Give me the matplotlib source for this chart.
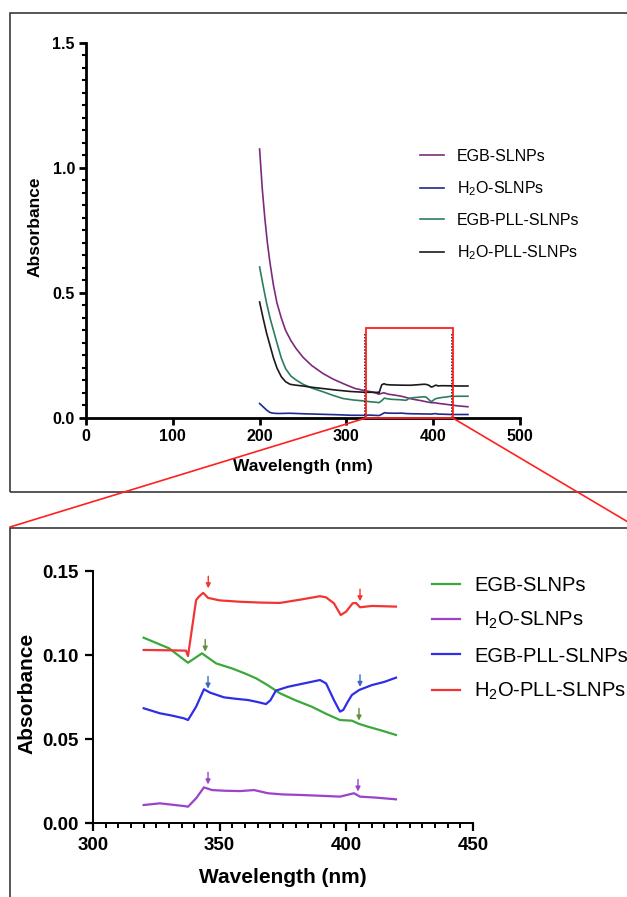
import numpy as np
import matplotlib
matplotlib.use('Agg')
import matplotlib.pyplot as plt
from matplotlib.patches import Rectangle, ConnectionPatch

plt.rcParams['font.family'] = ['Liberation Sans', 'DejaVu Sans']
plt.rcParams['mathtext.fontset'] = 'custom'
plt.rcParams['mathtext.rm'] = 'Liberation Sans'

# ---- data ----
labels = ['EGB-SLNPs', r'H$_\mathregular{2}$O-SLNPs', 'EGB-PLL-SLNPs', r'H$_\mathregular{2}$O-PLL-SLNPs']

egb_wl = [200, 203, 206, 209, 212, 216, 220, 225, 230, 236, 242, 250, 260, 273, 285, 298, 310, 320,
          330, 337.5, 343, 348.6, 354.9, 360, 364.4, 369, 373.8, 380, 386.4, 392, 397.5, 402.2, 405,
          408.6, 414, 419.6, 430, 440]
egb_abs = [1.076, 0.92, 0.80, 0.70, 0.62, 0.53, 0.46, 0.40, 0.35, 0.31, 0.278, 0.243, 0.21, 0.178,
           0.155, 0.135, 0.118, 0.1103, 0.104, 0.0954, 0.101, 0.095, 0.092, 0.089, 0.0861, 0.082,
           0.0772, 0.073, 0.0692, 0.065, 0.0613, 0.0609, 0.059, 0.0573, 0.055, 0.0524, 0.048, 0.045]

h2o_wl = [200, 204, 208, 212, 216, 222, 235, 250, 270, 290, 305, 320, 326.4, 335.9, 337.5, 340.7,
          343.8, 347, 352, 358, 363.6, 369.1, 375, 381.7, 390, 397.5, 403, 405.4, 411.7, 419.6, 430, 440]
h2o_abs = [0.058, 0.045, 0.032, 0.022, 0.019, 0.018, 0.019, 0.017, 0.015, 0.013, 0.011, 0.0107,
           0.0117, 0.0101, 0.0097, 0.0147, 0.0212, 0.0196, 0.0192, 0.019, 0.0196, 0.0177, 0.017,
           0.0167, 0.0162, 0.0157, 0.0177, 0.0157, 0.0151, 0.0141, 0.014, 0.014]

egbpll_wl = [200, 204, 208, 212, 216, 220, 225, 230, 236, 242, 250, 260, 273, 285, 296, 308, 320,
             326.4, 331, 335.9, 337.5, 340.7, 343.8, 346.2, 351.7, 356, 361.2, 365, 368.3, 370,
             372.2, 377, 383.3, 389.6, 392, 395.1, 397.5, 398.8, 400.5, 402.2, 405.1, 410.1, 415,
             419.6, 430, 440]
egbpll_abs = [0.604, 0.53, 0.46, 0.40, 0.35, 0.30, 0.24, 0.197, 0.168, 0.152, 0.135, 0.12, 0.105,
              0.09, 0.078, 0.072, 0.0683, 0.0653, 0.064, 0.0623, 0.0613, 0.0692, 0.0796, 0.0776,
              0.0748, 0.074, 0.0732, 0.072, 0.0708, 0.073, 0.0788, 0.0811, 0.0831, 0.0851, 0.0831,
              0.0732, 0.0663, 0.0673, 0.072, 0.0762, 0.0792, 0.0821, 0.084, 0.0865, 0.087, 0.087]

h2opll_wl = [200, 204, 208, 212, 216, 220, 225, 230, 235, 240, 250, 260, 275, 290, 305, 320, 330,
             336.7, 337.5, 339, 340.7, 342, 343.5, 345.4, 350, 358, 366, 373.8, 382, 389.6, 392,
             395.1, 397.8, 399.9, 402.5, 403.8, 405.4, 410.1, 415, 419.6, 430, 440]
h2opll_abs = [0.464, 0.40, 0.34, 0.29, 0.24, 0.20, 0.165, 0.145, 0.135, 0.132, 0.128, 0.123, 0.117,
              0.111, 0.106, 0.103, 0.1028, 0.1026, 0.0994, 0.115, 0.1327, 0.135, 0.137, 0.134,
              0.1325, 0.1317, 0.1312, 0.131, 0.133, 0.135, 0.1343, 0.1308, 0.1238, 0.1258, 0.1308,
              0.131, 0.1284, 0.1292, 0.129, 0.1288, 0.128, 0.128]

series_wl = [egb_wl, h2o_wl, egbpll_wl, h2opll_wl]
series_abs = [egb_abs, h2o_abs, egbpll_abs, h2opll_abs]

top_colors = ['#7b2b7d', '#1d2a8c', '#2c7d5c', '#1a1a1a']
zoom_colors = ['#3aa83a', '#9a42cc', '#2e2ee6', '#f23434']
arrow_colors = ['#5f8f3a', '#9a42cc', '#3a68c4', '#f23434']

# arrow tips in the zoomed panel (wavelength, absorbance), two per series
arrow_x = [[344.3, 405.0], [345.4, 404.6], [345.4, 405.4], [345.5, 405.4]]
arrow_y = [[0.102, 0.061], [0.023, 0.0187], [0.080, 0.081], [0.1397, 0.132]]

zoom_lo, zoom_hi = 322.5, 422.5
zoom_top = 0.36

W, H = 627, 897
fig = plt.figure(figsize=(W / 100, H / 100), dpi=100)

def px(x, y):
    return x / W, 1 - y / H

# ---- top panel ----
ax1 = fig.add_axes([86 / W, 1 - 418 / H, 434 / W, 375 / H])
for wl, ab, c, lab in zip(series_wl, series_abs, top_colors, labels):
    ax1.plot(wl, ab, color=c, lw=1.2, label=lab)
ax1.set_xlim(0, 500)
ax1.set_ylim(0, 1.5)
ax1.set_xticks(np.arange(0, 501, 100))
ax1.set_yticks([0, 0.5, 1.0, 1.5])
ax1.set_yticks(np.arange(0, 1.51, 0.05), minor=True)
ax1.yaxis.set_major_formatter(matplotlib.ticker.FormatStrFormatter('%.1f'))
for s in ['top', 'right']:
    ax1.spines[s].set_visible(False)
for s in ['left', 'bottom']:
    ax1.spines[s].set_linewidth(2)
ax1.tick_params(which='major', length=5, width=2, labelsize=11.5, pad=3)
ax1.tick_params(which='minor', length=3, width=1.5)
for t in ax1.get_xticklabels() + ax1.get_yticklabels():
    t.set_fontweight('bold')
ax1.set_xlabel('Wavelength (nm)', fontsize=12.5, fontweight='bold')
ax1.set_ylabel('Absorbance', fontsize=12.5, fontweight='bold')
ax1.xaxis.set_label_coords(0.5, -0.108)
ax1.yaxis.set_label_coords(-0.10, 0.51)
ax1.legend(loc='upper left', bbox_to_anchor=px(420, 149), bbox_transform=fig.transFigure,
           frameon=False, fontsize=11.5, handlelength=1.5, handletextpad=0.8,
           labelspacing=0.95, borderpad=0, borderaxespad=0)

# zoom box
ax1.add_patch(Rectangle((zoom_lo, 0), zoom_hi - zoom_lo, zoom_top, fill=False,
                        edgecolor='#ff2020', lw=1.3, zorder=5, clip_on=False))
for xv in [zoom_lo - 1, zoom_hi - 1]:
    ax1.plot([xv, xv], [0, 0.34], color='black', lw=1.1, ls=(0, (1, 1)), zorder=4)

# ---- bottom (zoomed) panel ----
ax2 = fig.add_axes([93 / W, 1 - 823 / H, 380 / W, 252 / H])
for wl, ab, c, lab in zip(series_wl, series_abs, zoom_colors, labels):
    wl = np.array(wl)
    ab = np.array(ab)
    m = (wl >= 320) & (wl <= 420)
    ax2.plot(wl[m], ab[m], color=c, lw=1.6, label=lab)
for xs, ys, c in zip(arrow_x, arrow_y, arrow_colors):
    for xa, ya in zip(xs, ys):
        ax2.annotate('', xy=(xa, ya), xytext=(xa, ya + 0.0072),
                     arrowprops=dict(arrowstyle='-|>', color=c, lw=1.0, mutation_scale=7,
                                     shrinkA=0, shrinkB=0))
ax2.set_xlim(300, 450)
ax2.set_ylim(0, 0.15)
ax2.set_xticks([300, 350, 400, 450])
ax2.set_xticks(np.arange(300, 451, 5), minor=True)
ax2.set_yticks([0, 0.05, 0.10, 0.15])
ax2.yaxis.set_major_formatter(matplotlib.ticker.FormatStrFormatter('%.2f'))
for s in ['top', 'right']:
    ax2.spines[s].set_visible(False)
for s in ['left', 'bottom']:
    ax2.spines[s].set_linewidth(1.4)
ax2.tick_params(which='major', length=6, width=1.6, labelsize=13.5, pad=4)
ax2.tick_params(which='minor', length=3.5, width=1.4)
for t in ax2.get_xticklabels() + ax2.get_yticklabels():
    t.set_fontweight('bold')
ax2.set_xlabel('Wavelength (nm)', fontsize=15, fontweight='bold')
ax2.set_ylabel('Absorbance', fontsize=15, fontweight='bold')
ax2.xaxis.set_label_coords(0.5, -0.18)
ax2.yaxis.set_label_coords(-0.148, 0.515)
ax2.legend(loc='upper left', bbox_to_anchor=px(432, 576), bbox_transform=fig.transFigure,
           frameon=False, fontsize=14.5, handlelength=1.4, handletextpad=0.7,
           labelspacing=0.75, borderpad=0, borderaxespad=0)

# ---- panel frames and connector lines ----
fig.add_artist(Rectangle(px(10, 492), 1.2, (492 - 13) / H, transform=fig.transFigure,
                         fill=False, edgecolor='#3a3a3a', lw=1.2))
fig.add_artist(Rectangle(px(10, 920), 1.2, (920 - 528) / H, transform=fig.transFigure,
                         fill=False, edgecolor='#3a3a3a', lw=1.2))
fig.add_artist(ConnectionPatch(xyA=(zoom_lo, 0), coordsA=ax1.transData,
                               xyB=px(10, 527), coordsB=fig.transFigure,
                               color='#ff2020', lw=1.2))
fig.add_artist(ConnectionPatch(xyA=(zoom_hi, 0), coordsA=ax1.transData,
                               xyB=px(660, 541), coordsB=fig.transFigure,
                               color='#ff2020', lw=1.2))

fig.savefig('out.png', dpi=100)
